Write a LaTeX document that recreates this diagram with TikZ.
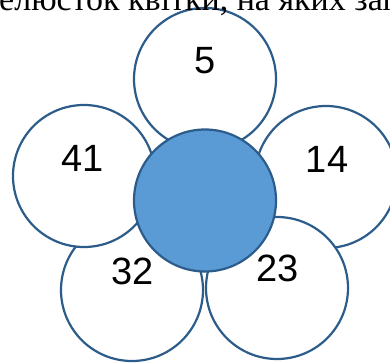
\documentclass[tikz,border=0pt]{standalone}
\usepackage{fontspec}
\setmainfont{Liberation Serif}
\newfontfamily\numfont{Liberation Sans}
\definecolor{petalline}{HTML}{2B5C8A}
\definecolor{corefill}{HTML}{5B9BD5}
\begin{document}
\begin{tikzpicture}[x=1pt,y=-1pt,
  petal/.style={circle, draw=petalline, line width=2.2pt, fill=white, minimum size=142pt, inner sep=0pt},
  corecircle/.style={petal, fill=corefill},
  num/.style={font=\numfont\fontsize{38}{40}\selectfont, inner sep=0pt, text=black}]
\useasboundingbox (0,0) rectangle (390,363);
\clip (0,0) rectangle (390,363);
\node[petal] (p5) at (205,79) {};
\node[petal] (p14) at (326,177) {};
\node[petal] (p32) at (132,290) {};
\node[petal] (p23) at (277,288) {};
\node[petal] (p41) at (84,176) {};
\node[corecircle] (core) at (205,200.5) {};
\node[anchor=base west, inner sep=0pt, font=\fontsize{34}{36}\selectfont] (caption) at (128,10.5) {\llap{пелюсток }квітки, на яких записано};
\node[num] (l5) at (205,61) {5};
\node[num] (l41) at (82.5,158) {41};
\node[num] (l14) at (327,159) {14};
\node[num] (l32) at (132.5,271) {32};
\node[num] (l23) at (277.5,268) {23};
\end{tikzpicture}
\end{document}
